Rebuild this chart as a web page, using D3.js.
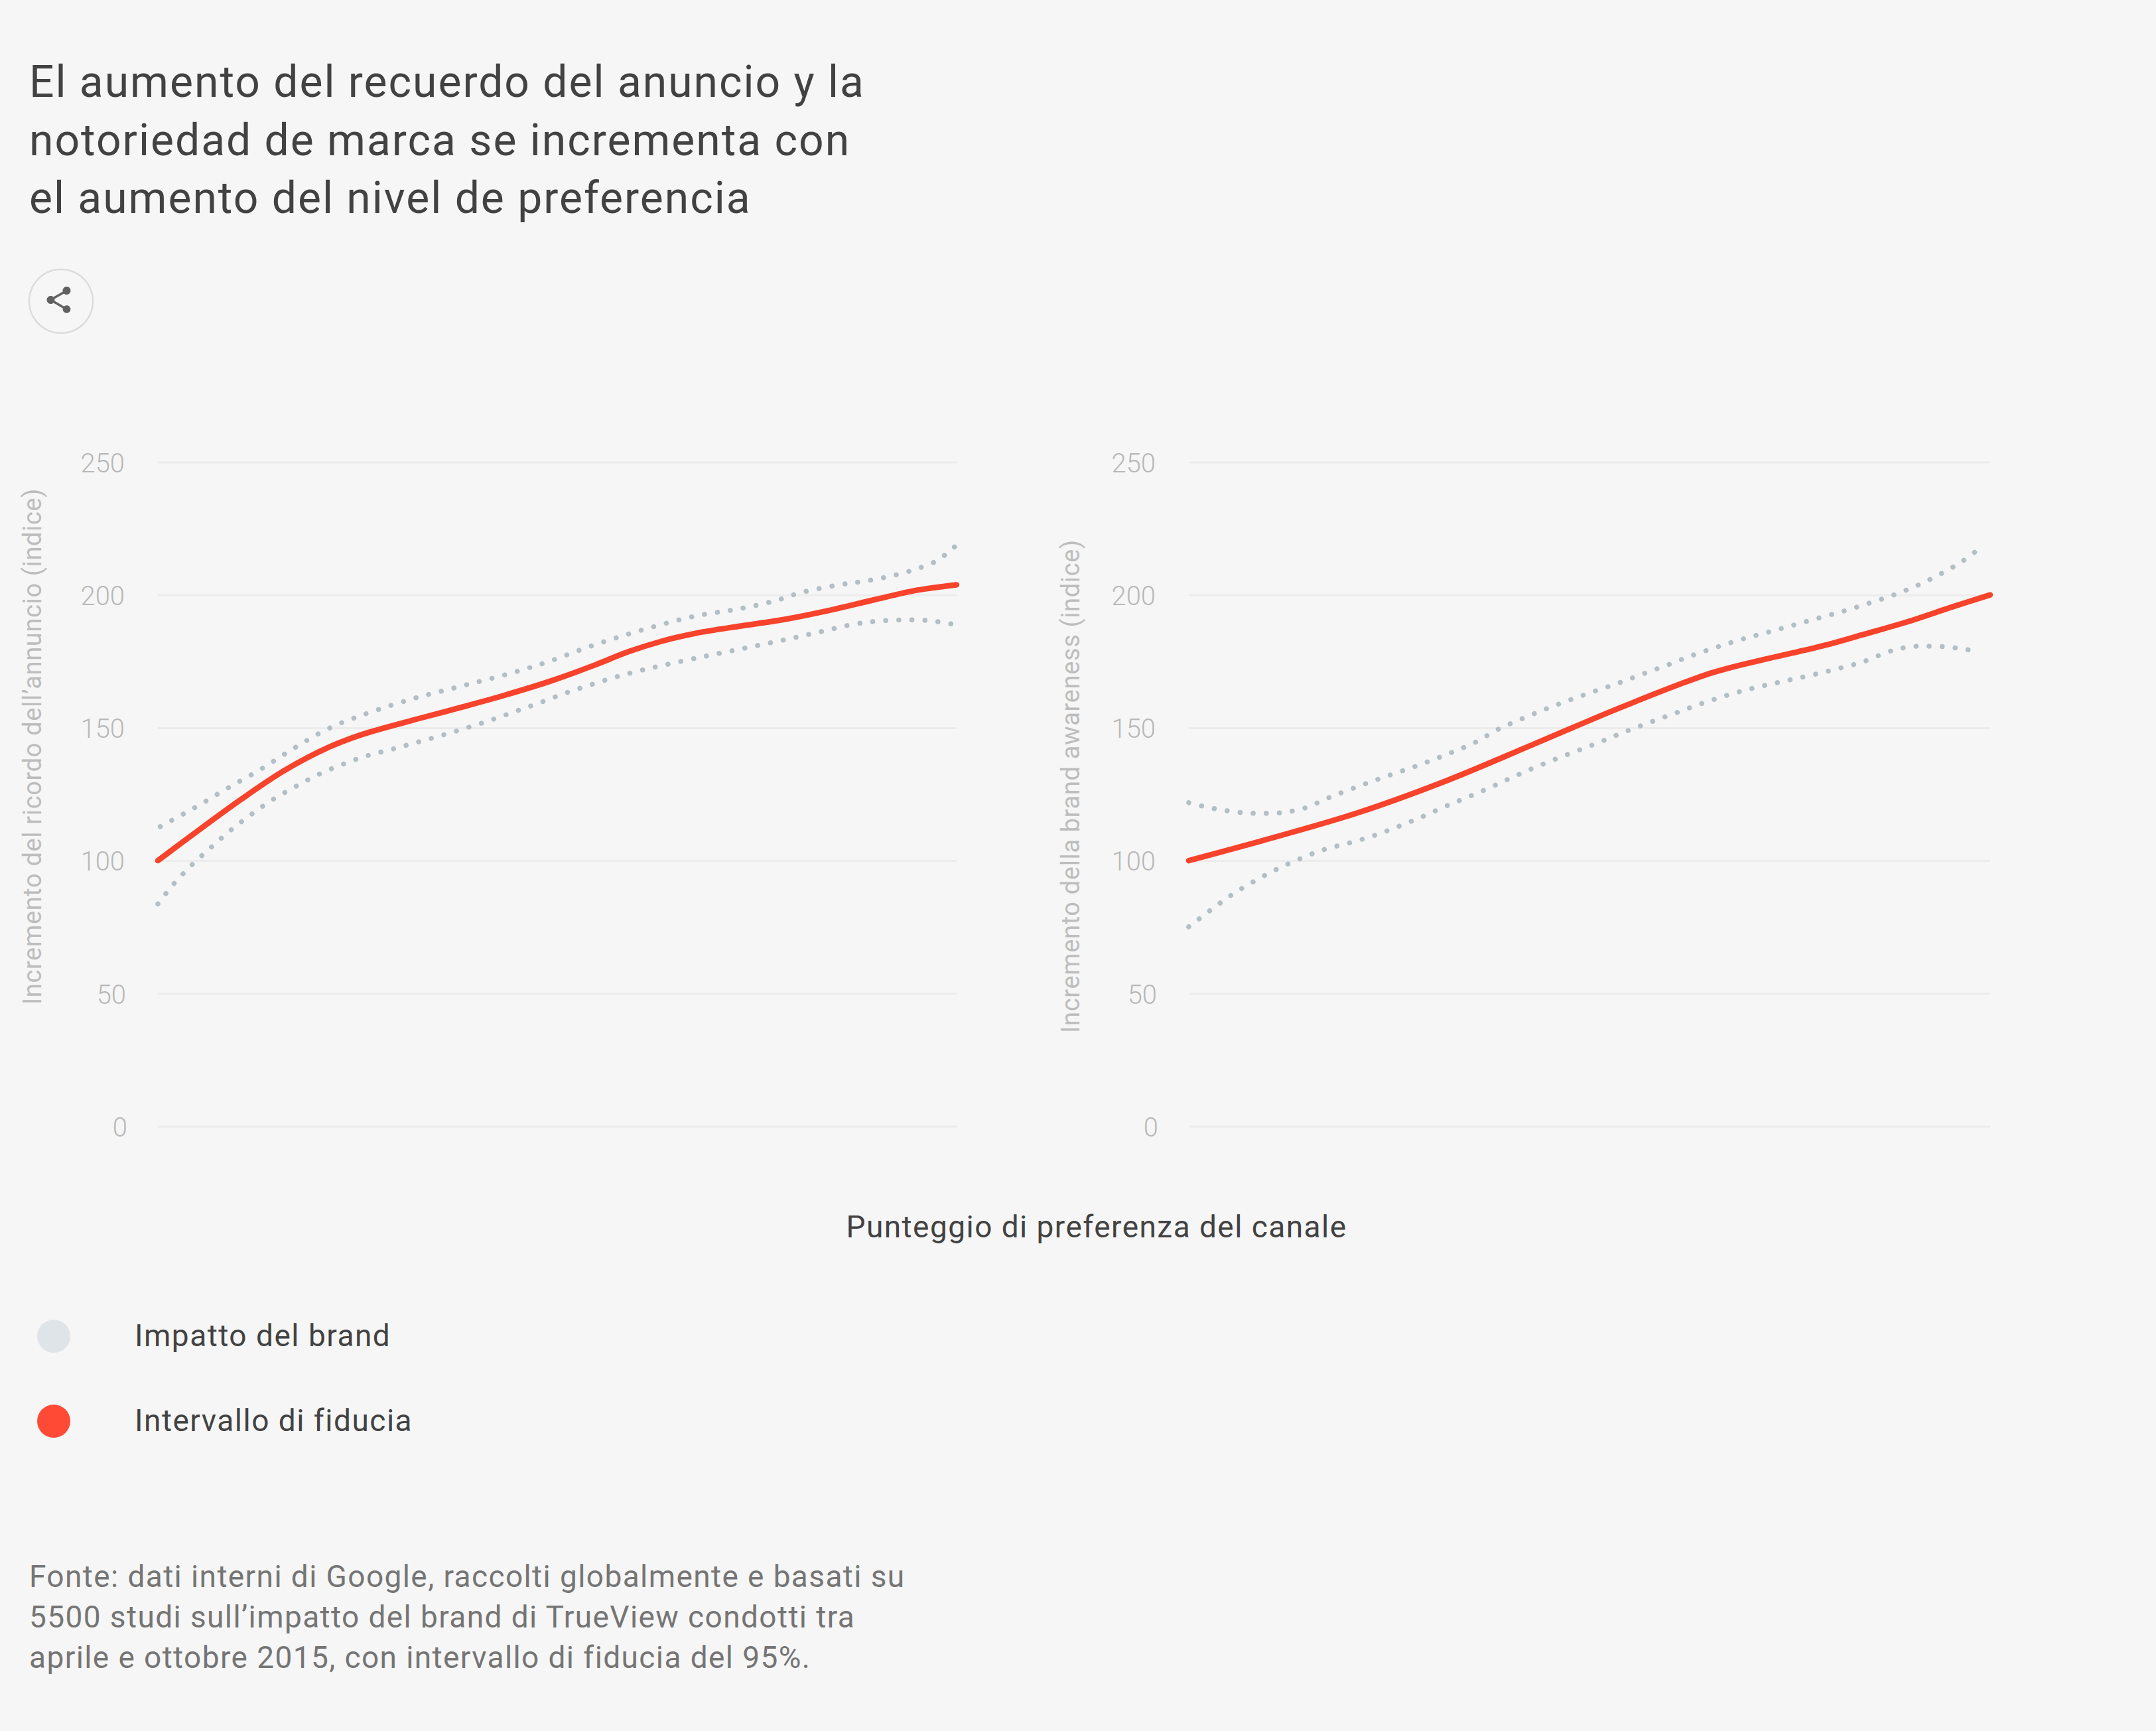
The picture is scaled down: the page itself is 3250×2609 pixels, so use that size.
<!DOCTYPE html>
<html><head><meta charset="utf-8">
<script src="https://cdn.jsdelivr.net/npm/d3@7"></script>
<style>
html,body{margin:0;padding:0;background:#f6f6f6;}
svg{display:block;}
text{font-family:Roboto,sans-serif;}
</style></head><body>
<script>
const titleLines=["El aumento del recuerdo del anuncio y la","notoriedad de marca se incrementa con","el aumento del nivel de preferencia"];
const sourceLines=["Fonte: dati interni di Google, raccolti globalmente e basati su","5500 studi sull’impatto del brand di TrueView condotti tra","aprile e ottobre 2015, con intervallo di fiducia del 95%."];
const yTicks=[0,50,100,150,200,250];
const xLabel="Punteggio di preferenza del canale";
const legendLabels=["Impatto del brand","Intervallo di fiducia"];
const legendColors=["#dfe4e8","#ff4a36"];

const leftTitle="Incremento del ricordo dell’annuncio (indice)";
const leftMainX=[0,4.9,10.4,15.9,21.5,25.6,32.6,38.1,43.6,49.2,54.7,58.9,63,67.4,73,78.5,84.1,89.6,95.1,100];
const leftMainY=[100,111,123,134,142.8,147.5,153.4,157.8,162.4,167.6,173.6,178.6,182.5,185.6,188.3,190.8,194.2,198.1,201.8,203.8];
const leftUpperX=[0.3,4.6,8.7,13,17.1,21.3,25.8,32,38.3,44.5,49.2,53.8,58.4,63,67.7,72.5,77.3,80.3,85.1,88.3,91.5,94.6,97.6,100];
const leftUpperY=[112.8,119.9,127.2,134.6,142.4,149.6,155,161,165.9,170.8,175.2,180.3,184.8,188.8,192.3,194.6,197.8,200.7,203.7,205.1,206.9,209.4,213,218.8];
const leftLowerX=[0,2,4.3,6.7,9.1,11.7,14.4,17.2,20.1,23.1,26.1,29.3,32.3,35.5,38.7,41.8,44.8,47.9,50.9,54,57.1,60.2,63.4,68.2,72.9,77.7,82.5,87.2,90.4,93.7,96.9,100];
const leftLowerY=[83.7,91.3,98.5,105.1,111.4,117.4,123,127.8,132.4,136.2,139.4,141.9,144.4,147.1,150,153,156.2,159.5,162.9,166,168.9,171.4,173.6,176.7,179.6,182.6,185.8,189,190.2,190.6,190.2,188.7];

const rightTitle="Incremento della brand awareness (indice)";
const rightMainX=[0,10,21.1,32.1,43.2,54.2,65.2,71.9,76,80.1,84.3,89.8,95.3,100];
const rightMainY=[100,108.2,118,130,144,158,170.6,175.8,178.6,181.6,185.2,190,195.5,200];
const rightUpperX=[0,1.7,3.3,4.9,6.5,8.1,9.8,11.4,13,14.6,16.1,17.5,19.1,22.1,25.2,28.3,31.3,32.8,35.8,38.6,41.6,44.6,47.6,50.7,53.8,56.8,59.9,62.9,69,72.2,75.3,78.5,81.6,84.7,87.8,90.8,93.7,96.5,99.1];
const rightUpperY=[121.8,120.5,119.5,118.7,118.1,117.8,117.8,118,118.7,119.9,121.8,123.7,125.6,129,132.3,135.5,138.9,140.7,144.6,149.4,153.4,157.1,160.5,163.8,167,170.4,173.8,177.3,183.3,185.9,188.5,191.2,193.8,196.7,199.8,203.4,207.7,212.6,218.5];
const rightLowerX=[0,2.7,5.3,8.1,11,13.9,16.9,20.1,23.2,26.2,29.2,32.1,33.7,36.7,39.7,42.6,45.6,48.7,51.7,54.7,57.7,60.8,63.9,68.5,71.7,74.8,78,81.2,84.3,87.3,88.9,90.5,92.1,93.8,95.3,96.9,98.5];
const rightLowerY=[75.1,81.3,87,92.1,96.8,100.7,104.2,106.7,109.5,112.9,116.6,120.5,122.5,126.3,130.4,134.3,138,141.6,145.1,148.8,152.2,155.6,159,163.4,165.8,167.9,170,172.4,175,178.6,179.9,180.6,180.7,180.6,180.2,179.5,178.7];

const W=3250,H=2609;
const svg=d3.select("body").append("svg").attr("width",W).attr("height",H);
svg.append("rect").attr("width",W).attr("height",H).attr("fill","#f6f6f6");

function multi(lines,x,ys,size,color,weight,ls){
  svg.append("g").selectAll("text").data(lines).join("text")
    .attr("x",x).attr("y",(d,i)=>ys[i]).text(d=>d)
    .attr("font-size",size).attr("fill",color).attr("font-weight",weight).attr("letter-spacing",ls);
}
multi(titleLines,44,[146,234,321],66,"#424242",400,1.98);
multi(sourceLines,44,[2392,2453,2514],46,"#757575",400,1.4);

// share button
const sh=svg.append("g");
sh.append("circle").attr("cx",92).attr("cy",454).attr("r",48).attr("fill","none").attr("stroke","#dcdcdc").attr("stroke-width",2.5);
sh.append("path").attr("transform","translate(64.5,428) scale(2)").attr("fill","#616161")
  .attr("d","M18 16.08c-.76 0-1.44.3-1.96.77L8.91 12.7c.05-.23.09-.46.09-.7s-.04-.47-.09-.7l7.05-4.11c.54.5 1.25.81 2.04.81 1.66 0 3-1.34 3-3s-1.34-3-3-3-3 1.34-3 3c0 .24.04.47.09.7L8.04 9.81C7.5 9.31 6.79 9 6 9c-1.66 0-3 1.34-3 3s1.34 3 3 3c.79 0 1.5-.31 2.04-.81l7.12 4.16c-.05.21-.08.43-.08.65 0 1.61 1.31 2.92 2.92 2.92 1.61 0 2.92-1.31 2.92-2.92s-1.31-2.92-2.92-2.92z");

const y=d3.scaleLinear().domain([0,250]).range([1697.6,696.4]);
function panel(x0,x1,titleX,titleY,mainX,mainY,upX,upY,loX,loY,title){
  const x=d3.scaleLinear().domain([0,100]).range([x0,x1]);
  const g=svg.append("g");
  const ax=g.append("g").attr("transform",`translate(${x0},0)`)
    .call(d3.axisLeft(y).tickValues(yTicks).tickSize(-(x1-x0)).tickPadding(50));
  ax.select(".domain").remove();
  ax.selectAll("line").attr("stroke","#ececec").attr("stroke-width",3);
  ax.selectAll("text").attr("font-size",40).attr("font-family","Roboto,sans-serif").attr("font-weight",300).attr("fill","#b8b8b8")
    .attr("dy","0.37em").attr("dx",d=>d===0?4:(d===50?2:0));
  const line=d3.line().x(d=>x(d[0])).y(d=>y(d[1])).curve(d3.curveCatmullRom.alpha(0.5));
  [[upX,upY],[loX,loY]].forEach(([a,b])=>{
    g.append("path").attr("d",line(a.map((v,i)=>[v,b[i]]))).attr("fill","none")
     .attr("stroke","#b3bfc5").attr("stroke-width",7.5).attr("stroke-linecap","round").attr("stroke-dasharray","0.1 19.6");
  });
  g.append("path").attr("d",line(mainX.map((v,i)=>[v,mainY[i]]))).attr("fill","none")
   .attr("stroke","#f7432c").attr("stroke-width",8.5).attr("stroke-linecap","round");
  g.append("text").attr("transform",`translate(${titleX},${titleY}) rotate(-90)`).attr("text-anchor","middle")
   .attr("font-size",38).attr("letter-spacing",0.65).attr("fill","#bdbdbd").text(title);
}
panel(238,1442,62,1125,leftMainX,leftMainY,leftUpperX,leftUpperY,leftLowerX,leftLowerY,leftTitle);
panel(1792,3000,1626.5,1185,rightMainX,rightMainY,rightUpperX,rightUpperY,rightLowerX,rightLowerY,rightTitle);

svg.append("text").attr("x",1653).attr("y",1865).attr("text-anchor","middle").attr("font-size",46).attr("fill","#424242").attr("letter-spacing",1.45).text(xLabel);

const lg=svg.append("g").selectAll("g").data(legendLabels).join("g");
lg.append("circle").attr("cx",81).attr("cy",(d,i)=>2014+i*128).attr("r",25).attr("fill",(d,i)=>legendColors[i]);
lg.append("text").attr("x",203).attr("y",(d,i)=>2029+i*128).attr("font-size",46).attr("fill","#424242").attr("letter-spacing",1.5).text(d=>d);
</script>
</body></html>
